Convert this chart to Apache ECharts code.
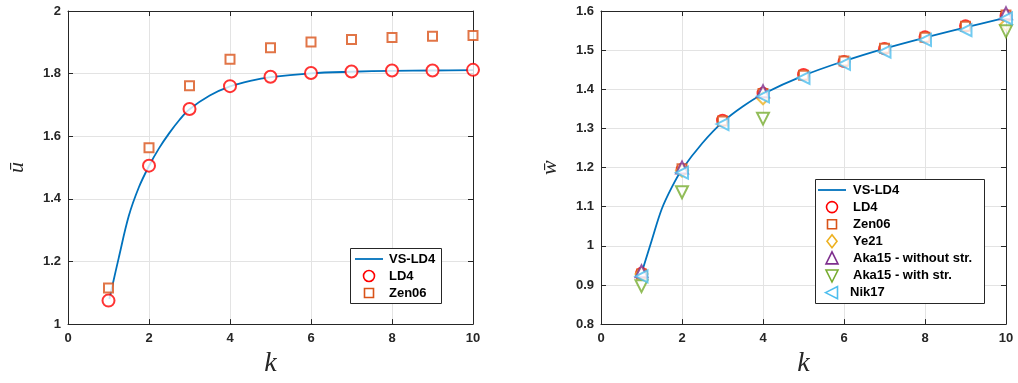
<!DOCTYPE html>
<html>
<head>
<meta charset="utf-8">
<script src="https://cdn.jsdelivr.net/npm/echarts@6/dist/echarts.min.js"></script>
<style>
  html, body { margin: 0; padding: 0; background: #fff; }
  #chart { width: 1018px; height: 383px; }
</style>
</head>
<body>
<div id="chart"></div>
<script>
// ---- Left panel: mean u versus k ----
const kPoints = [1, 2, 3, 4, 5, 6, 7, 8, 9, 10];
const vsLd4CurveK = [1.02, 1.1, 1.25, 1.5, 1.75, 2, 2.25, 2.5, 2.75, 3, 3.5, 4, 4.5, 5, 6, 7, 8, 9, 10];
const vsLd4CurveU = [1.08, 1.125, 1.21, 1.345, 1.437, 1.505, 1.562, 1.61, 1.652, 1.686, 1.73, 1.759, 1.777, 1.789, 1.801, 1.806, 1.809, 1.810, 1.811];
const ld4U   = [1.075, 1.506, 1.687, 1.760, 1.790, 1.802, 1.807, 1.810, 1.810, 1.812];
const zen06U = [1.115, 1.563, 1.761, 1.846, 1.883, 1.901, 1.909, 1.915, 1.919, 1.922];

// ---- Right panel: mean w versus k ----
const vsLd4CurveKw = [1, 1.25, 1.5, 1.75, 2, 2.5, 3, 3.5, 4, 5, 6, 7, 8, 9, 10];
const vsLd4CurveW  = [0.93, 1.013, 1.094, 1.15, 1.195, 1.262, 1.316, 1.356, 1.388, 1.435, 1.472, 1.504, 1.532, 1.558, 1.583];
const ld4W    = [0.930, 1.195, 1.321, 1.390, 1.438, 1.471, 1.504, 1.534, 1.562, 1.588];
const zen06W  = [0.928, 1.197, 1.319, 1.389, 1.436, 1.472, 1.505, 1.533, 1.561, 1.590];
const sparseK = [1, 2, 4, 10];
const ye21W       = [0.928, 1.192, 1.377, 1.565];
const aka15NoStrW = [0.935, 1.200, 1.395, 1.594];
const aka15StrW   = [0.897, 1.137, 1.325, 1.548];
const nik17W  = [0.922, 1.187, 1.311, 1.382, 1.429, 1.465, 1.496, 1.526, 1.551, 1.581];

// legend entries for each panel
const leftLegendNames  = ['VS-LD4', 'LD4', 'Zen06'];
const rightLegendNames = ['VS-LD4', 'LD4', 'Zen06', 'Ye21', 'Aka15 - without str.', 'Aka15 - with str.', 'Nik17'];

// axis ranges / ticks
const xTicks = { min: 0, max: 10, interval: 2 };
const uTicks = { min: 1, max: 2, interval: 0.2 };
const wTicks = { min: 0.8, max: 1.6, interval: 0.1 };

const C = {
  line: '#0072BD', red: '#FF0000', orange: '#D95319', yellow: '#EDB120',
  purple: '#7E2F8E', green: '#77AC30', cyan: '#4DBEEE', axis: '#262626', grid: '#e3e3e3'
};

// marker style per series name
const STYLE = {
  'VS-LD4':               { kind: 'line', color: C.line },
  'LD4':                  { kind: 'circle', color: C.red },
  'Zen06':                { kind: 'square', color: C.orange },
  'Ye21':                 { kind: 'diamond', color: C.yellow },
  'Aka15 - without str.': { kind: 'up', color: C.purple },
  'Aka15 - with str.':    { kind: 'down', color: C.green },
  'Nik17':                { kind: 'left', color: C.cyan }
};

const zip = (xs, ys) => xs.map((x, i) => [x, ys[i]]);

const tickFont = { fontFamily: 'Liberation Sans, Arial, sans-serif', fontWeight: 'bold', fontSize: 13, color: C.axis };

function mainX(gridIndex) {
  return {
    type: 'value', gridIndex, position: 'bottom', ...xTicks,
    name: 'k', nameLocation: 'middle', nameGap: 22,
    nameTextStyle: { fontFamily: 'Liberation Serif, serif', fontStyle: 'italic', fontSize: 28, color: C.axis },
    axisLine: { show: true, onZero: false, lineStyle: { color: C.axis, width: 1 } },
    axisTick: { show: true, inside: true, length: 5, lineStyle: { color: C.axis } },
    axisLabel: { ...tickFont, margin: 8 },
    splitLine: { show: true, lineStyle: { color: C.grid, width: 1 } }
  };
}
function mirrorX(gridIndex) {
  return {
    type: 'value', gridIndex, position: 'top', ...xTicks,
    axisLine: { show: true, onZero: false, lineStyle: { color: C.axis, width: 1 } },
    axisTick: { show: true, inside: true, length: 5, lineStyle: { color: C.axis } },
    axisLabel: { show: false }, splitLine: { show: false }
  };
}
function mainY(gridIndex, ticks, name, digits) {
  return {
    type: 'value', gridIndex, position: 'left', ...ticks,
    name, nameLocation: 'middle', nameGap: 40, nameRotate: 90,
    nameTextStyle: { fontFamily: 'Liberation Serif, serif', fontStyle: 'italic', fontSize: 22, color: C.axis },
    axisLine: { show: true, onZero: false, lineStyle: { color: C.axis, width: 1 } },
    axisTick: { show: true, inside: true, length: 5, lineStyle: { color: C.axis } },
    axisLabel: { ...tickFont, margin: 7, formatter: v => (Math.abs(v - Math.round(v)) < 1e-9 ? String(Math.round(v)) : v.toFixed(digits)) },
    splitLine: { show: true, lineStyle: { color: C.grid, width: 1 } }
  };
}
function mirrorY(gridIndex, ticks) {
  return {
    type: 'value', gridIndex, position: 'right', ...ticks,
    axisLine: { show: true, onZero: false, lineStyle: { color: C.axis, width: 1 } },
    axisTick: { show: true, inside: true, length: 5, lineStyle: { color: C.axis } },
    axisLabel: { show: false }, splitLine: { show: false }
  };
}

function curve(name, data, xi, yi) {
  return {
    name, type: 'line', xAxisIndex: xi, yAxisIndex: yi, data, smooth: 0.35,
    showSymbol: false, symbol: 'none', lineStyle: { color: C.line, width: 1.8 },
    itemStyle: { color: C.line }, z: 3, animation: false
  };
}
const SYMBOL = {
  circle: ['emptyCircle', 0], square: ['emptyRect', 0], diamond: ['emptyDiamond', 0],
  up: ['emptyTriangle', 0], down: ['emptyTriangle', 180], left: ['emptyTriangle', 90]
};
function markers(name, data, xi, yi, size) {
  const st = STYLE[name];
  const [symbol, rot] = SYMBOL[st.kind];
  return {
    name, type: 'scatter', xAxisIndex: xi, yAxisIndex: yi, data,
    symbol, symbolSize: size, symbolRotate: rot,
    itemStyle: { color: st.color, borderColor: st.color, borderWidth: 1.6 }, z: 4, animation: false
  };
}

// ---- boxed legends (MATLAB style) drawn with graphic elements ----
const LZ = 100;
function legendGlyph(kind, color, cx, cy) {
  const s = { fill: 'none', stroke: color, lineWidth: 1.6 };
  const r = 5.5;
  const base = { z: LZ + 2, silent: true };
  switch (kind) {
    case 'line':   return { ...base, type: 'line', shape: { x1: cx - 14, y1: cy, x2: cx + 14, y2: cy }, style: { stroke: color, lineWidth: 1.8 } };
    case 'circle': return { ...base, type: 'circle', shape: { cx, cy, r: 5.5 }, style: s };
    case 'square': return { ...base, type: 'rect', shape: { x: cx - 4.5, y: cy - 4.5, width: 9, height: 9 }, style: s };
    case 'diamond':return { ...base, type: 'polygon', shape: { points: [[cx, cy - 6.5], [cx + 5, cy], [cx, cy + 6.5], [cx - 5, cy]] }, style: s };
    case 'up':     return { ...base, type: 'polygon', shape: { points: [[cx, cy - r - 1], [cx + r + 0.5, cy + r], [cx - r - 0.5, cy + r]] }, style: s };
    case 'down':   return { ...base, type: 'polygon', shape: { points: [[cx, cy + r + 1], [cx + r + 0.5, cy - r], [cx - r - 0.5, cy - r]] }, style: s };
    case 'left':   return { ...base, type: 'polygon', shape: { points: [[cx - r - 1, cy], [cx + r, cy - r - 0.5], [cx + r, cy + r + 0.5]] }, style: s };
  }
}
function boxedLegend(names, box, rowStep, textX, glyphX) {
  const elements = [{
    type: 'rect', z: LZ, silent: true,
    shape: { x: box.x, y: box.y, width: box.w, height: box.h },
    style: { fill: '#fff', stroke: C.axis, lineWidth: 1 }
  }];
  names.forEach((name, i) => {
    const cy = box.y + 10.5 + i * rowStep;
    const st = STYLE[name];
    elements.push(legendGlyph(st.kind, st.color, glyphX, cy));
    elements.push({
      type: 'text', z: LZ + 2, silent: true,
      x: textX - (name === 'Nik17' ? 3 : 0), y: cy,
      style: {
        text: name, fill: '#000',
        font: 'bold 13px "Liberation Sans", Arial, sans-serif',
        verticalAlign: 'middle', align: 'left'
      }
    });
  });
  return elements;
}

const option = {
  backgroundColor: '#fff',
  animation: false,
  grid: [
    { left: 68, right: 545, top: 11, bottom: 52 },
    { left: 601, right: 12, top: 11, bottom: 52 }
  ],
  xAxis: [mainX(0), mirrorX(0), mainX(1), mirrorX(1)],
  yAxis: [mainY(0, uTicks, 'ū', 1), mirrorY(0, uTicks), mainY(1, wTicks, 'w\u0304', 1), mirrorY(1, wTicks)],
  series: [
    curve('VS-LD4', zip(vsLd4CurveK, vsLd4CurveU), 0, 0),
    markers('LD4', zip(kPoints, ld4U), 0, 0, 12),
    markers('Zen06', zip(kPoints, zen06U), 0, 0, 9),

    curve('VS-LD4', zip(vsLd4CurveKw, vsLd4CurveW), 2, 2),
    markers('LD4', zip(kPoints, ld4W), 2, 2, 11),
    markers('Zen06', zip(kPoints, zen06W), 2, 2, 9),
    markers('Ye21', zip(sparseK, ye21W), 2, 2, 12),
    markers('Aka15 - without str.', zip(sparseK, aka15NoStrW), 2, 2, 12),
    markers('Aka15 - with str.', zip(sparseK, aka15StrW), 2, 2, 12),
    markers('Nik17', zip(kPoints, nik17W), 2, 2, 12)
  ],
  graphic: { elements: [
    ...boxedLegend(leftLegendNames,  { x: 350.5, y: 248.5, w: 91, h: 55 }, 17, 389, 369),
    ...boxedLegend(rightLegendNames, { x: 815.5, y: 179.5, w: 169, h: 124 }, 17.1, 853, 832)
  ] }
};

const chart = echarts.init(document.getElementById('chart'), null, { renderer: 'canvas', width: 1018, height: 383 });
chart.setOption(option);
</script>
</body>
</html>
